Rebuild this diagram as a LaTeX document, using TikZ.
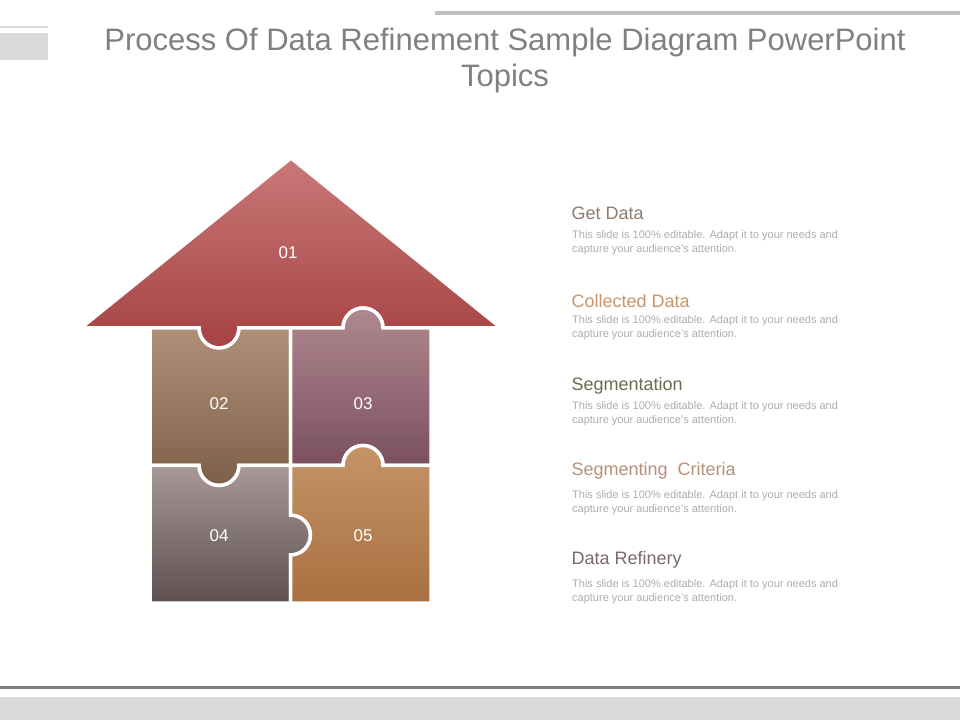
\documentclass[tikz,border=0pt]{standalone}
\usepackage{fontspec}
\setmainfont{Liberation Sans}
\begin{document}
\begin{tikzpicture}[x=1pt,y=1pt,
  piece/.style={draw=white,line width=3.5pt,line join=miter},
  num/.style={text=white,font=\fontsize{17}{20}\selectfont},
  head/.style={anchor=west,font=\fontsize{18}{21}\selectfont},
  body/.style={anchor=north west,text=black!32,font=\fontsize{11}{14}\selectfont,align=left,inner sep=0pt}]
\useasboundingbox (0,0) rectangle (960,720);
\fill[white] (0,0) rectangle (960,720);
% decorations
\fill[black!25] (435,705) rectangle (960,709);
\fill[black!15] (0,692) rectangle (48,694);
\fill[black!15] (0,660) rectangle (48,687);
\fill[black!50] (0,31) rectangle (960,34);
\fill[black!15] (0,0) rectangle (960,23);
% title
\node[text=black!50,font=\fontsize{31}{36}\selectfont,align=center] (title) at (505,660) {Process Of Data Refinement Sample Diagram PowerPoint\\Topics};
% puzzle
\shade[piece,top color={rgb,255:red,201;green,120;blue,120},bottom color={rgb,255:red,166;green,66;blue,66}]
 (81,392)--(291,562)--(501,392)--(383,392) arc[start angle=0,end angle=180,radius=20]
 --(239,392) arc[start angle=0,end angle=-180,radius=20]--cycle;
\shade[piece,top color={rgb,255:red,176;green,144;blue,120},bottom color={rgb,255:red,126;green,95;blue,72}]
 (150,392)--(199,392) arc[start angle=180,end angle=360,radius=20]--(290.5,392)--(290.5,254.5)
 --(239,254.5) arc[start angle=0,end angle=-180,radius=20]--(150,254.5)--cycle;
\shade[piece,top color={rgb,255:red,176;green,136;blue,144},bottom color={rgb,255:red,122;green,80;blue,94}]
 (290.5,392)--(343,392) arc[start angle=180,end angle=0,radius=20]--(431,392)--(431,254.5)
 --(383,254.5) arc[start angle=0,end angle=180,radius=20]--(290.5,254.5)--cycle;
\shade[piece,top color={rgb,255:red,168;green,152;blue,152},bottom color={rgb,255:red,94;green,80;blue,80}]
 (150,254.5)--(199,254.5) arc[start angle=180,end angle=360,radius=20]--(290.5,254.5)--(290.5,205)
 arc[start angle=90,end angle=-90,radius=20]--(290.5,117)--(150,117)--cycle;
\shade[piece,top color={rgb,255:red,197;green,148;blue,104},bottom color={rgb,255:red,168;green,112;blue,64}]
 (290.5,254.5)--(343,254.5) arc[start angle=180,end angle=0,radius=20]--(431,254.5)--(431,117)
 --(290.5,117)--(290.5,165) arc[start angle=-90,end angle=90,radius=20]--cycle;
\node[num] (n1) at (288,467) {01};
\node[num] (n2) at (219,316) {02};
\node[num] (n3) at (363,316) {03};
\node[num] (n4) at (219,184) {04};
\node[num] (n5) at (363,184) {05};
% right texts
\def\bt{This slide is 100\% editable. Adapt it to your needs and\\capture your audience's attention.}
\node[head,text={rgb,255:red,140;green,123;blue,112}] (h1) at (568,507) {Get Data};
\node[body] (b1) at (572,490) {\bt};
\node[head,text={rgb,255:red,200;green,149;blue,106}] (h2) at (568,419) {Collected Data};
\node[body] (b2) at (572,405) {\bt};
\node[head,text={rgb,255:red,107;green,107;blue,78}] (h3) at (568,334) {Segmentation};
\node[body] (b3) at (572,319) {\bt};
\node[head,text={rgb,255:red,184;green,144;blue,120}] (h4) at (568,249) {Segmenting\ \ Criteria};
\node[body] (b4) at (572,230) {\bt};
\node[head,text={rgb,255:red,122;green,106;blue,106}] (h5) at (568,160) {Data Refinery};
\node[body] (b5) at (572,141) {\bt};
\end{tikzpicture}
\end{document}
